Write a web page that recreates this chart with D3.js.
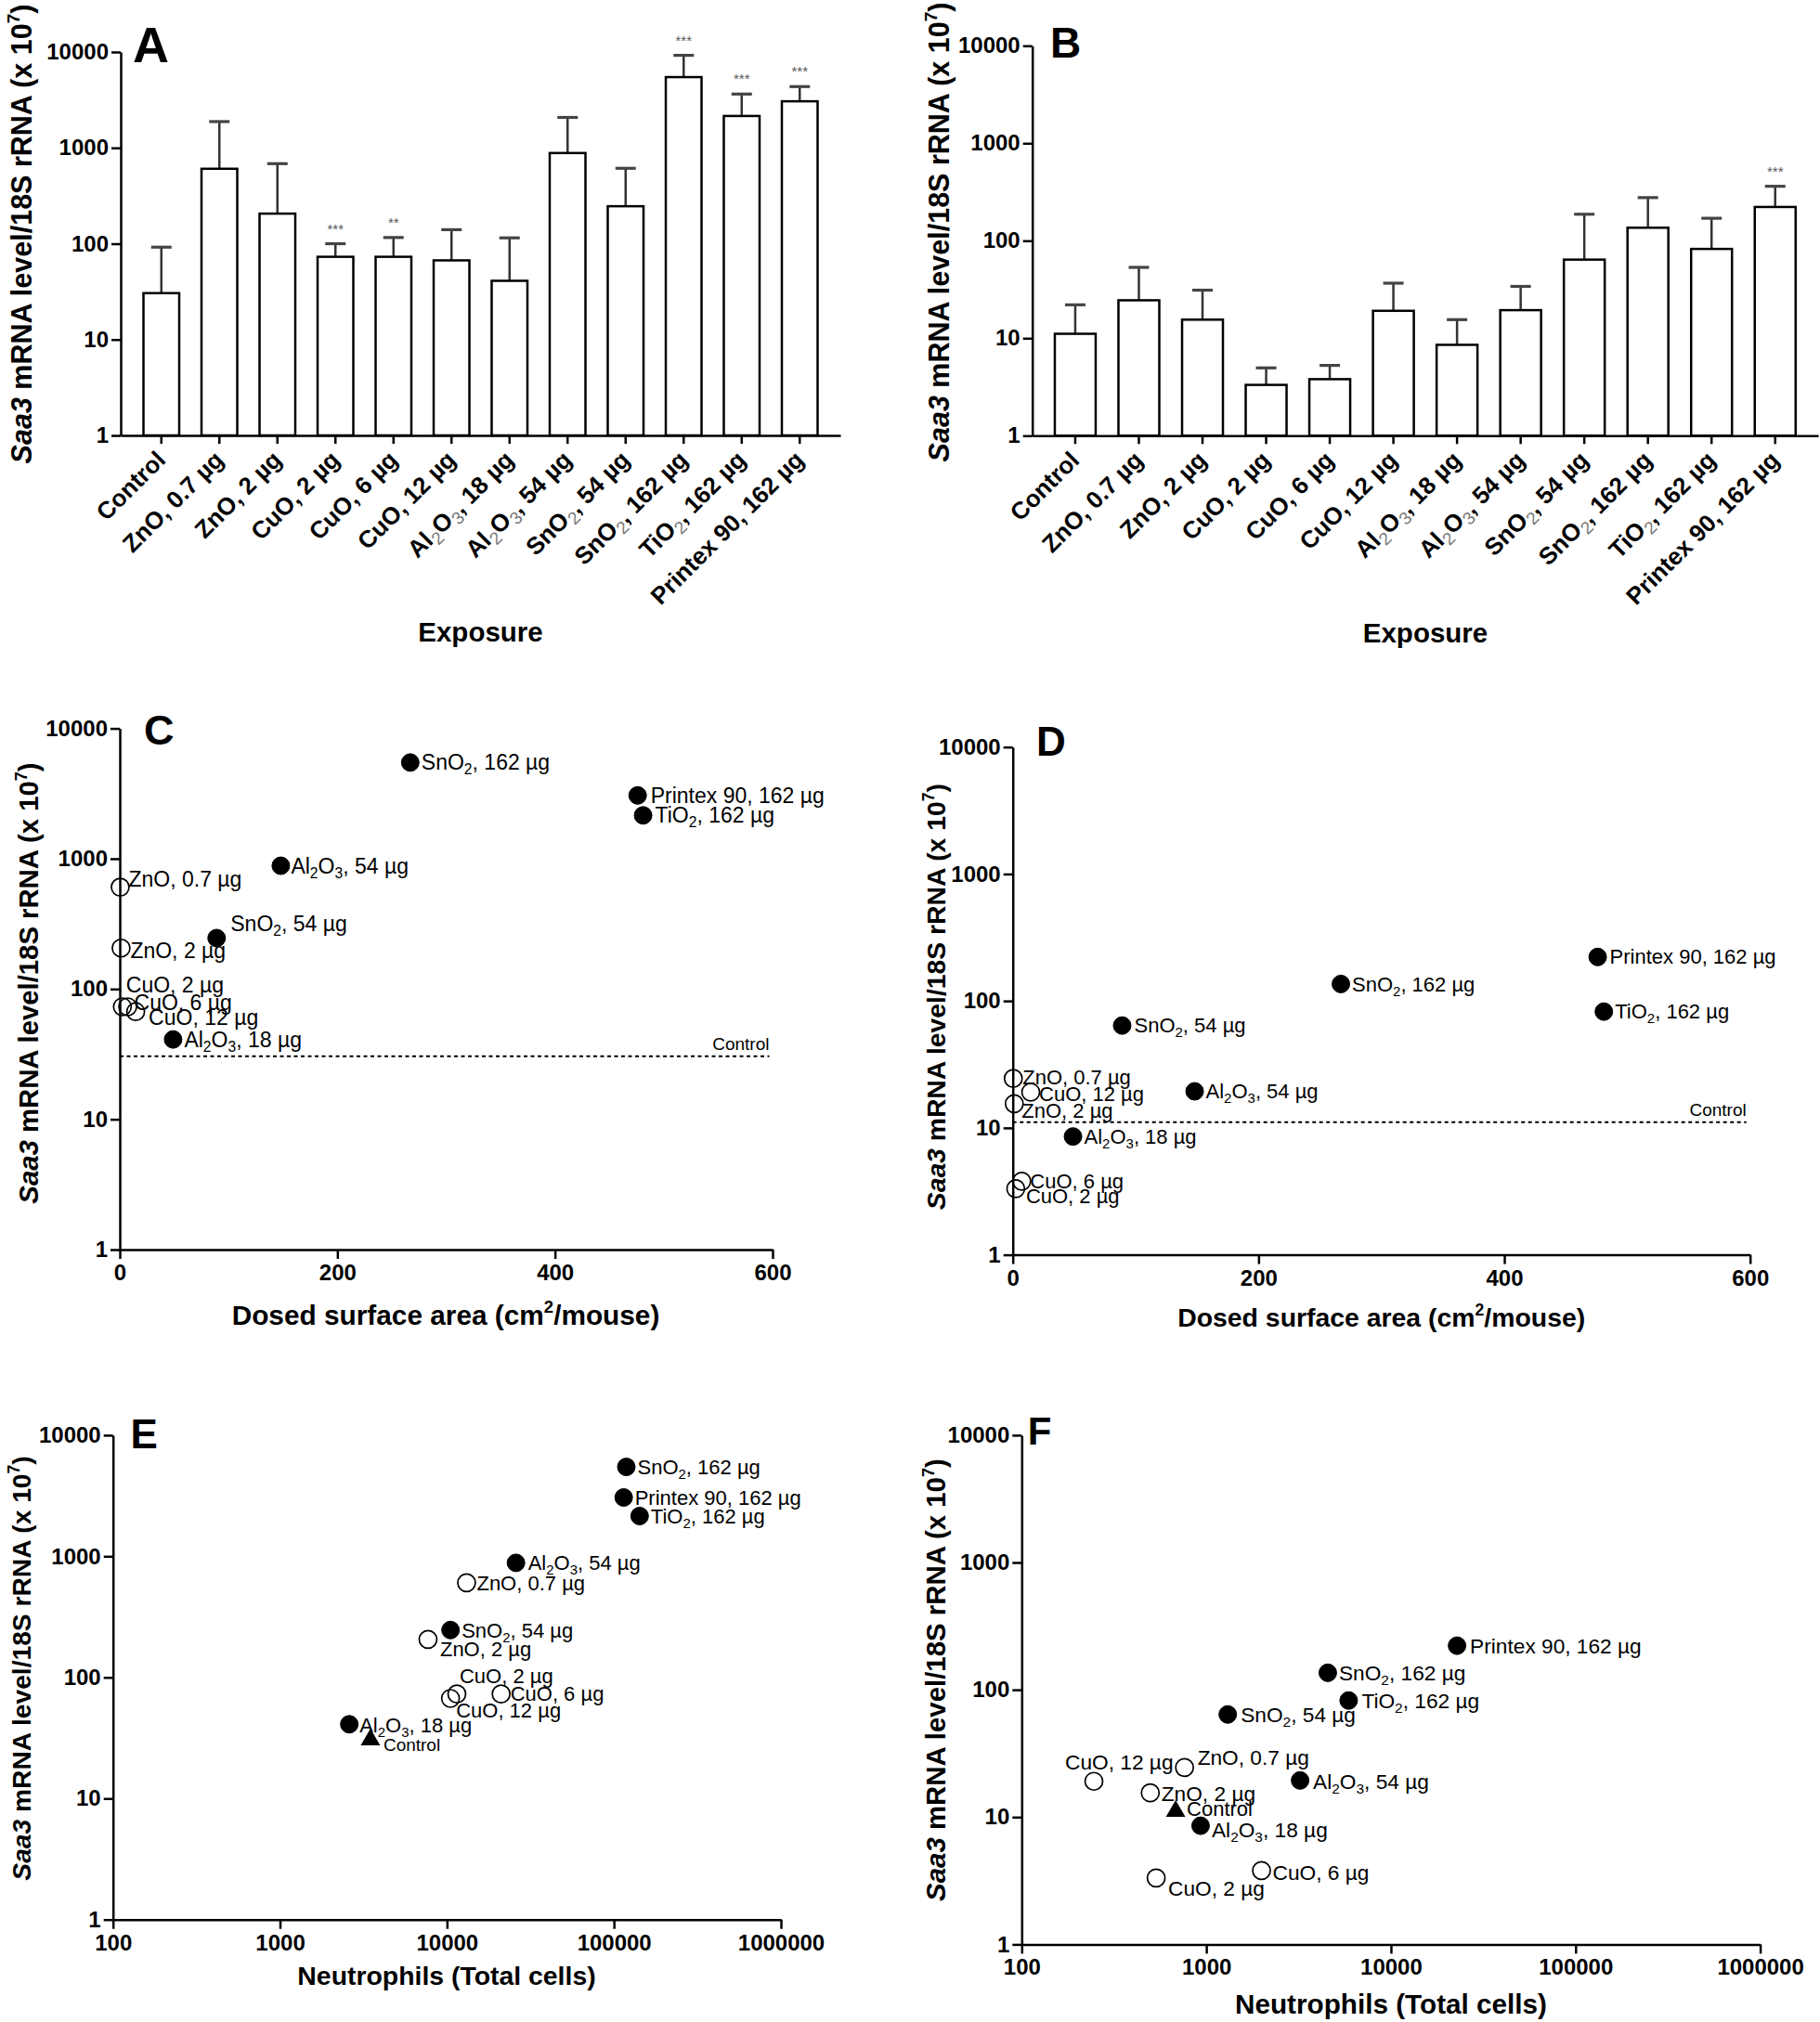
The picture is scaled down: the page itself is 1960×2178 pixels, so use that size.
<!DOCTYPE html>
<html>
<head>
<meta charset="utf-8">
<script src="https://cdn.jsdelivr.net/npm/d3@7"></script>
<style>
  body { margin: 0; background: #fff; }
  svg { display: block; }
  text { font-family: "Liberation Sans", Arial, Helvetica, sans-serif; }
</style>
</head>
<body>
<svg id="chart" width="1960" height="2178"></svg>
<script>
// ---------------- DATA ----------------
const categories = ["Control", "ZnO, 0.7 µg", "ZnO, 2 µg", "CuO, 2 µg", "CuO, 6 µg", "CuO, 12 µg",
  "Al2O3, 18 µg", "Al2O3, 54 µg", "SnO2, 54 µg", "SnO2, 162 µg", "TiO2, 162 µg", "Printex 90, 162 µg"];

// Saa3 mRNA (x 10^7), early time point (panels A, C, E)
const meanEarly = [30.5, 605, 206, 73, 73, 67, 41, 883, 246, 5470, 2150, 3060];
const errEarly  = [61.5, 1274, 478, 27, 43, 73, 74, 1193, 366, 3760, 1490, 1295];
const sigEarly  = ["", "", "", "***", "**", "", "", "", "", "***", "***", "***"];

// Saa3 mRNA (x 10^7), late time point (panels B, D, F)
const meanLate = [11.1, 24.5, 15.5, 3.32, 3.8, 19.1, 8.55, 19.4, 64, 136, 82.4, 222];
const errLate  = [10.9, 28.8, 15.6, 1.64, 1.46, 17.6, 6.95, 14.6, 123, 141, 87.6, 140];
const sigLate  = ["", "", "", "", "", "", "", "", "", "", "", "***"];

// Dosed surface area (cm2/mouse); Control has none
const surfaceArea = [null, 0.4, 1.2, 2.4, 7.3, 14.6, 49, 148, 89, 267, 481, 476];

// Neutrophils (total cells)
const neutroEarly = [3480, 13100, 7700, 11460, 21100, 10500, 2600, 25900, 10500, 118600, 142500, 114400];
const neutroLate  = [682, 762, 497, 535, 1990, 246, 931, 3220, 1306, 4550, 5900, 22800];

const markerType = ["triangle", "open", "open", "open", "open", "open",
  "filled", "filled", "filled", "filled", "filled", "filled"];

const yTicks = [1, 10, 100, 1000, 10000];
const xTicksSurface = [0, 200, 400, 600];
const xTicksNeutro = [100, 1000, 10000, 100000, 1000000];

// ---------------- LAYOUT (positions / styles) ----------------
const FONT = '"Liberation Sans", Arial, Helvetica, sans-serif';
const svg = d3.select("#chart");

const layout = {
  A: { x0: 130, x1: 905, yTop: 56, yBot: 469, pi: 0.384, po: 0.392,
       letter: [143, 67, 54], ylab: [34, 252, 30.5], xtitle: [517.5, 691, 29.5] },
  B: { x0: 1111.7, x1: 1958, yTop: 49.3, yBot: 469.3, pi: 0.358, po: 0.354,
       letter: [1131, 62, 46], ylab: [1022, 250, 30.5], xtitle: [1535, 692, 29.5] },
  C: { x0: 129, x1: 832, yTop: 784.6, yBot: 1346, labelSize: 23,
       letter: [155, 802, 45], ylab: [41, 1059, 29.3], xtitle: [480, 1427, 29.8] },
  D: { x0: 1090.7, x1: 1884.7, yTop: 804.7, yBot: 1351.6, labelSize: 22,
       letter: [1116, 813.7, 44], ylab: [1018, 1073.7, 28.3], xtitle: [1487.7, 1429, 28.4] },
  E: { x0: 121.7, x1: 841, yTop: 1545.9, yBot: 2067.7, labelSize: 22,
       letter: [140.6, 1560, 44], ylab: [33, 1797, 28.2], xtitle: [481, 2138, 28.4] },
  F: { x0: 1100.3, x1: 1895.6, yTop: 1545.9, yBot: 2094.4, labelSize: 22.7,
       letter: [1106.7, 1556, 42], ylab: [1018, 1809.5, 29.4], xtitle: [1498, 2169, 29.7] }
};

// label offsets [dx to text start, dy of text centre] relative to the marker
const offC = [null, [9, -9], [10, 3], [4, -24], [7, -5], [14, 6], [12, 0], [11, 0], [15, -15], [12, 0], [13, 0], [14, 0]];
const offD = [null, [10, -1], [8, 7], [11, 8], [9, 0], [9, 2], [12, 0], [12, 0], [13, 0], [12, 0], [12, 0], [13, 0]];
const offE = [[14, 5], [11, 0], [13, 10], [3, -19], [10, 0], [6, 13], [11, 1], [13, 0], [12, 0], [12, 0], [12, 0], [12, 0]];
const offF = [[12, -3], [14, -11], [12, 1], [13, 11], [12, 2], [-31, -21], [12, 4], [14, 1], [14, 0], [12, 0], [14, 0], [14, 0]];

// ---------------- HELPERS ----------------
function addFormula(textSel, label, sub) {
  const parts = [];
  let buf = "";
  for (let i = 0; i < label.length; i++) {
    const c = label[i];
    if (/\d/.test(c) && i > 0 && /[A-Za-z]/.test(label[i - 1])) {
      if (buf) parts.push({ t: buf, sub: false });
      buf = "";
      parts.push({ t: c, sub: true });
    } else buf += c;
  }
  if (buf) parts.push({ t: buf, sub: false });
  let shifted = false;
  parts.forEach(p => {
    const ts = textSel.append("tspan").text(p.t);
    if (p.sub) {
      ts.attr("dy", shifted ? 0 : sub.shift).style("font-size", sub.size + "px");
      if (sub.fill) ts.attr("fill", sub.fill);
      if (sub.weight) ts.style("font-weight", sub.weight);
      shifted = true;
    } else if (shifted) {
      ts.attr("dy", -sub.shift);
      shifted = false;
    }
  });
}

function panelLetter(L, letter) {
  svg.append("text").attr("x", L.letter[0]).attr("y", L.letter[1])
    .style("font-size", L.letter[2] + "px").style("font-weight", "bold").text(letter);
}

function yLabel(L) {
  const s = L.ylab[2];
  const t = svg.append("text")
    .attr("transform", `translate(${L.ylab[0]},${L.ylab[1]}) rotate(-90)`)
    .attr("text-anchor", "middle")
    .style("font-size", s + "px").style("font-weight", "bold");
  t.append("tspan").style("font-style", "italic").text("Saa3");
  t.append("tspan").text(" mRNA level/18S rRNA (x 10");
  t.append("tspan").attr("dy", -0.42 * s).style("font-size", (0.62 * s) + "px").text("7");
  t.append("tspan").attr("dy", 0.42 * s).text(")");
}

function styleAxis(g, fontSize) {
  g.attr("font-family", FONT);
  g.select(".domain").attr("stroke", "#000").attr("stroke-width", 2.5);
  g.selectAll(".tick line").attr("stroke", "#000").attr("stroke-width", 2.5);
  g.selectAll(".tick text").attr("fill", "#000")
    .style("font-size", fontSize + "px").style("font-weight", "bold");
}

function yAxis(L) {
  const y = d3.scaleLog().domain([1, 10000]).range([L.yBot, L.yTop]);
  const g = svg.append("g").attr("transform", `translate(${L.x0},0)`)
    .call(d3.axisLeft(y).tickValues(yTicks).tickFormat(d3.format("d"))
      .tickSize(10).tickSizeOuter(0).tickPadding(3));
  styleAxis(g, 24);
  return y;
}

// ---------------- BAR PANELS ----------------
function barPanel(L, letter, means, errs, sig) {
  const x = d3.scaleBand().domain(categories).range([L.x0, L.x1])
    .paddingInner(L.pi).paddingOuter(L.po);
  const y = d3.scaleLog().domain([1, 10000]).range([L.yBot, L.yTop]);
  const data = categories.map((c, i) => ({ c, m: means[i], e: errs[i], s: sig[i] }));
  const g = svg.append("g");

  // error bars
  g.selectAll(".err").data(data).enter().append("line")
    .attr("x1", d => x(d.c) + x.bandwidth() / 2).attr("x2", d => x(d.c) + x.bandwidth() / 2)
    .attr("y1", d => y(d.m)).attr("y2", d => y(d.m + d.e))
    .attr("stroke", "#333").attr("stroke-width", 2.5);
  g.selectAll(".cap").data(data).enter().append("line")
    .attr("x1", d => x(d.c) + x.bandwidth() / 2 - 11).attr("x2", d => x(d.c) + x.bandwidth() / 2 + 11)
    .attr("y1", d => y(d.m + d.e)).attr("y2", d => y(d.m + d.e))
    .attr("stroke", "#444").attr("stroke-width", 3.2);

  // bars
  g.selectAll(".bar").data(data).enter().append("rect")
    .attr("x", d => x(d.c)).attr("width", x.bandwidth())
    .attr("y", d => y(d.m)).attr("height", d => L.yBot - y(d.m))
    .attr("fill", "#fff").attr("stroke", "#000").attr("stroke-width", 2.5);

  // significance stars
  g.selectAll(".sig").data(data.filter(d => d.s)).enter().append("text")
    .attr("x", d => x(d.c) + x.bandwidth() / 2).attr("y", d => y(d.m + d.e) - 11)
    .attr("text-anchor", "middle").attr("fill", "#555")
    .style("font-size", "15px").text(d => d.s);

  // axes
  yAxis(L);
  const xg = svg.append("g").attr("transform", `translate(0,${L.yBot})`)
    .call(d3.axisBottom(x).tickSize(9).tickSizeOuter(0).tickFormat(""));
  styleAxis(xg, 26);
  xg.selectAll(".tick text").remove();
  xg.selectAll(".tick").each(function (d) {
    const t = d3.select(this).append("text")
      .attr("transform", "translate(6,28) rotate(-45)")
      .attr("text-anchor", "end").attr("fill", "#000")
      .style("font-size", "26px").style("font-weight", "bold");
    addFormula(t, d, { shift: 6, size: 19, fill: "#777", weight: "normal" });
  });

  svg.append("text").attr("x", L.xtitle[0]).attr("y", L.xtitle[1])
    .attr("text-anchor", "middle").style("font-size", L.xtitle[2] + "px")
    .style("font-weight", "bold").text("Exposure");
  panelLetter(L, letter);
  yLabel(L);
}

// ---------------- SCATTER PANELS ----------------
function scatterPanel(L, letter, xs, ys, kind, offs, controlMean, controlLabelSize) {
  let x, xTicks;
  if (kind === "surface") {
    x = d3.scaleLinear().domain([0, 600]).range([L.x0, L.x1]);
    xTicks = xTicksSurface;
  } else {
    x = d3.scaleLog().domain([100, 1000000]).range([L.x0, L.x1]);
    xTicks = xTicksNeutro;
  }
  const y = yAxis(L);
  const xg = svg.append("g").attr("transform", `translate(0,${L.yBot})`)
    .call(d3.axisBottom(x).tickValues(xTicks).tickFormat(d3.format("d")).tickSize(10).tickSizeOuter(0).tickPadding(6));
  styleAxis(xg, 24);

  const g = svg.append("g");
  const pts = categories.map((c, i) => ({ c, i, x: xs[i], y: ys[i], t: markerType[i], o: offs[i] }))
    .filter(d => d.x !== null && d.x !== undefined);

  if (kind === "surface") {
    // control dashed reference line
    g.append("line").attr("x1", x(0)).attr("x2", x(597))
      .attr("y1", y(controlMean)).attr("y2", y(controlMean))
      .attr("stroke", "#000").attr("stroke-width", 2).attr("stroke-dasharray", "4,3.5");
    g.append("text").attr("x", x(597)).attr("y", y(controlMean) - 7)
      .attr("text-anchor", "end").style("font-size", controlLabelSize + "px").text("Control");
  }

  // labels
  pts.forEach(d => {
    const sz = d.c === "Control" ? controlLabelSize : L.labelSize;
    const t = g.append("text").attr("x", x(d.x) + d.o[0]).attr("y", y(d.y) + d.o[1] + sz * 0.35)
      .style("font-size", sz + "px");
    addFormula(t, d.c, { shift: 5, size: sz * 0.68 });
  });

  // markers
  pts.forEach(d => {
    if (d.t === "triangle") {
      g.append("path").attr("d", d3.symbol(d3.symbolTriangle, 190)())
        .attr("transform", `translate(${x(d.x)},${y(d.y)})`).attr("fill", "#000");
    } else {
      g.append("circle").attr("cx", x(d.x)).attr("cy", y(d.y)).attr("r", 9.5)
        .attr("fill", d.t === "filled" ? "#000" : "none")
        .attr("stroke", "#000").attr("stroke-width", d.t === "filled" ? 1 : 1.7);
    }
  });

  // x title
  const s = L.xtitle[2];
  const t = svg.append("text").attr("x", L.xtitle[0]).attr("y", L.xtitle[1])
    .attr("text-anchor", "middle").style("font-size", s + "px").style("font-weight", "bold");
  if (kind === "surface") {
    t.append("tspan").text("Dosed surface area (cm");
    t.append("tspan").attr("dy", -0.42 * s).style("font-size", (0.62 * s) + "px").text("2");
    t.append("tspan").attr("dy", 0.42 * s).text("/mouse)");
  } else {
    t.text("Neutrophils (Total cells)");
  }
  panelLetter(L, letter);
  yLabel(L);
}

barPanel(layout.A, "A", meanEarly, errEarly, sigEarly);
barPanel(layout.B, "B", meanLate, errLate, sigLate);
scatterPanel(layout.C, "C", surfaceArea, meanEarly, "surface", offC, meanEarly[0], 19);
scatterPanel(layout.D, "D", surfaceArea, meanLate, "surface", offD, meanLate[0], 19);
scatterPanel(layout.E, "E", neutroEarly, meanEarly, "neutro", offE, null, 19);
scatterPanel(layout.F, "F", neutroLate, meanLate, "neutro", offF, null, 22);
</script>
</body>
</html>
